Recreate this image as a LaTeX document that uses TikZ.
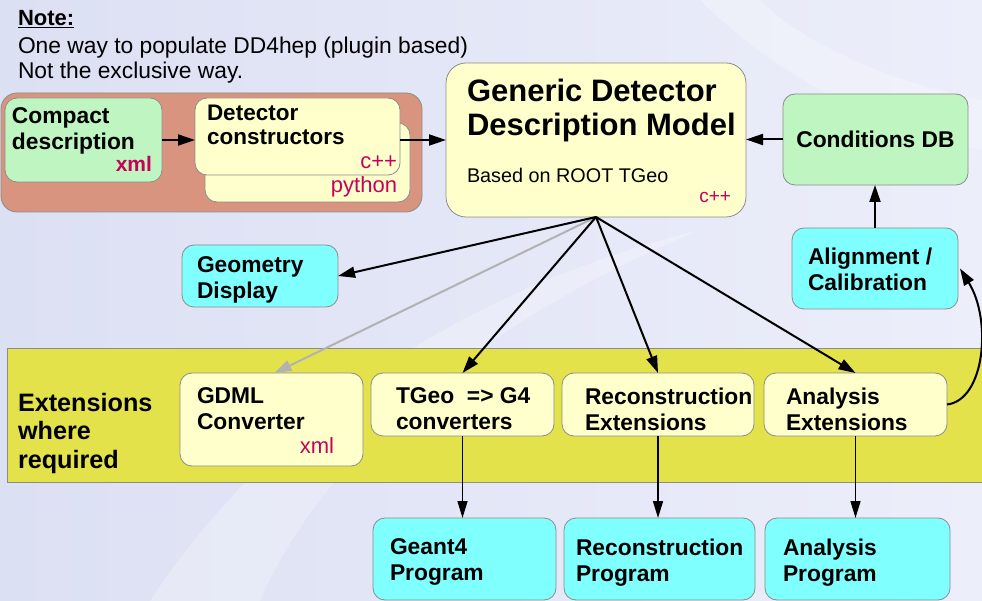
\documentclass[tikz,border=0pt]{standalone}
\usepackage{fontspec}
\setmainfont{Liberation Sans}
\usetikzlibrary{arrows.meta}
\definecolor{bgl}{RGB}{220,224,243}
\definecolor{bgr}{RGB}{236,238,250}
\definecolor{salmon}{RGB}{217,148,128}
\definecolor{lgreen}{RGB}{190,245,192}
\definecolor{lyellow}{RGB}{255,255,204}
\definecolor{lcyan}{RGB}{128,255,255}
\definecolor{band}{RGB}{228,226,75}
\definecolor{crim}{RGB}{200,0,90}
\definecolor{bord}{RGB}{140,140,140}
\definecolor{garrow}{RGB}{178,178,178}
\tikzset{
  boxbase/.style={draw=bord, line width=0.8pt, rounded corners=12pt, anchor=north west, inner sep=0pt, outer sep=0pt},
  ybox/.style={boxbase, fill=lyellow},
  gbox/.style={boxbase, fill=lgreen},
  cbox/.style={boxbase, fill=lcyan},
  btxt/.style={inner sep=0pt, outer sep=0pt, anchor=north west, align=left, font=\fontsize{22.8}{25.5}\selectfont\bfseries},
  ctag/.style={inner sep=0pt, outer sep=0pt, anchor=base east, text=crim, font=\fontsize{22}{26}\selectfont},
  arr/.style={line width=2pt, -{Triangle[length=17pt,width=11pt]}},
  darr/.style={line width=1.5pt, -{Triangle[length=17pt,width=10pt]}},
}
\begin{document}
\begin{tikzpicture}[x=1pt,y=-1pt]
\useasboundingbox (0,0) rectangle (982,601);
\fill[left color=bgl, right color=bgr] (0,0) rectangle (982,601);
\clip (0,0) rectangle (982,601);
% faint background swooshes
\fill[white, opacity=0.25] (150,601) .. controls (250,450) and (420,300) .. (700,230) .. controls (480,320) and (320,460) .. (260,601) -- cycle;
\fill[white, opacity=0.25] (700,0) .. controls (760,60) and (850,120) .. (982,150) -- (982,100) .. controls (880,80) and (800,40) .. (760,0) -- cycle;

% note
\node[btxt, font=\fontsize{22}{26}\selectfont\bfseries] (note) at (18,10) {\underline{Note:}};
\node[btxt, font=\fontsize{22.8}{25}\selectfont] (notetxt) at (18,37) {One way to populate DD4hep (plugin based)\\Not the exclusive way.};

% salmon container
\node[boxbase, fill=salmon, rounded corners=16pt, minimum width=421pt, minimum height=119pt] (sal) at (1,93) {};
\node[gbox, minimum width=157pt, minimum height=84pt] (cmp) at (5,98) {};
\node[btxt] (cmpt) at (12,108) {Compact\\description};
\node[ctag, font=\fontsize{21}{25}\selectfont\bfseries] (cmpx) at (152,172) {xml};
\node[ybox, minimum width=205pt, minimum height=79pt] (detb) at (205,123) {};
\node[ybox, minimum width=205pt, minimum height=77pt] (det) at (195,98) {};
\node[btxt, font=\fontsize{22.5}{24}\selectfont\bfseries] (dett) at (207,105) {Detector\\constructors};
\node[ctag] (detc) at (397,169) {c++};
\node[ctag] (detp) at (397,193) {python};

% generic model
\node[ybox, rounded corners=20pt, minimum width=300pt, minimum height=154pt] (gddm) at (446,63) {};
\node[btxt, font=\fontsize{31}{34.5}\selectfont\bfseries] (gddmt) at (467,79) {Generic Detector\\Description Model};
\node[btxt, font=\fontsize{19.8}{23}\selectfont] (gddmb) at (467,168) {Based on ROOT TGeo};
\node[ctag, font=\fontsize{19}{23}\selectfont] (gddmc) at (731,203) {c++};

% conditions, alignment
\node[gbox, minimum width=185pt, minimum height=91pt] (cond) at (783,94) {};
\node[btxt, anchor=center] (condt) at (cond.center) {Conditions DB};
\node[cbox, minimum width=166pt, minimum height=81pt] (align) at (792,228) {};
\node[btxt] (alignt) at (808,248) {Alignment /\\Calibration};

% geometry display
\node[cbox, minimum width=156pt, minimum height=62pt] (geo) at (182,245) {};
\node[btxt] (geot) at (197,257) {Geometry\\Display};

% extension band
\node[boxbase, fill=band, rounded corners=0pt, minimum width=990pt, minimum height=134pt] (bandn) at (7,348) {};
\node[btxt, font=\fontsize{25.2}{28.5}\selectfont\bfseries] (extt) at (18,393) {Extensions\\where\\required};
\node[ybox, minimum width=183pt, minimum height=93pt] (gdml) at (180,373) {};
\node[btxt] (gdmlt) at (197,388) {GDML\\Converter};
\node[ctag] (gdmlx) at (334,453) {xml};
\node[ybox, minimum width=183pt, minimum height=63pt] (tgeo) at (371,373) {};
\node[btxt] (tgeot) at (396,388) {TGeo\ \ => G4\\converters};
\node[ybox, minimum width=192pt, minimum height=63pt] (recx) at (562,373) {};
\node[btxt] (recxt) at (585,388) {Reconstruction\\Extensions};
\node[ybox, minimum width=183pt, minimum height=63pt] (anax) at (764,373) {};
\node[btxt] (anaxt) at (786,388) {Analysis\\Extensions};

% programs
\node[cbox, minimum width=183pt, minimum height=82pt] (g4) at (373,518) {};
\node[btxt] (g4t) at (390,539) {Geant4\\Program};
\node[cbox, minimum width=191pt, minimum height=82pt] (recp) at (564,518) {};
\node[btxt] (recpt) at (576,539) {Reconstruction\\Program};
\node[cbox, minimum width=185pt, minimum height=82pt] (anap) at (765,518) {};
\node[btxt] (anapt) at (783,539) {Analysis\\Program};

% connectors
\draw[arr] (cmp.east) -- (cmp.east -| det.west);
\draw[arr] (det.east |- gddm.west) -- (gddm.west);
\draw[arr] (cond.west) -- (cond.west -| gddm.east);
\draw[arr] (align.north) -- (align.north |- cond.south);
\draw[arr, draw=garrow, -{Triangle[length=17pt,width=11pt,fill=garrow]}] (gddm.south) -- ([xshift=3pt]gdml.north);
\draw[arr] (gddm.south) -- (geo.east);
\draw[arr] (gddm.south) -- (tgeo.north);
\draw[arr] (gddm.south) -- (recx.north);
\draw[arr] (gddm.south) -- (anax.north);
\draw[darr] (tgeo.south) -- (tgeo.south |- g4.north);
\draw[darr] (recx.south) -- (recx.south |- recp.north);
\draw[darr] (anax.south) -- (anax.south |- anap.north);
\draw[arr] (anax.east) .. controls (985,400) and (992,320) .. ([xshift=2pt]align.east);
\end{tikzpicture}
\end{document}
